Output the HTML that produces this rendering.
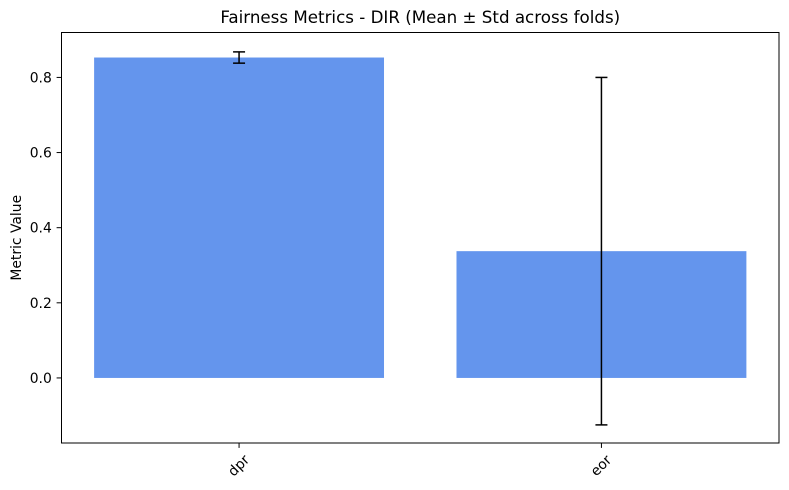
<!DOCTYPE html>
<html><head><meta charset="utf-8"><style>
html,body{margin:0;padding:0;background:#fff;}
svg{display:block;font-family:"DejaVu Sans","Liberation Sans",sans-serif;}
</style></head><body>
<svg id="chart" width="789" height="490" viewBox="0 0 789 490"></svg>
<script>
const categories = ["dpr", "eor"];
const means = [0.853, 0.3375];
const stds = [0.015, 0.4625];
const yTicks = [0.0, 0.2, 0.4, 0.6, 0.8];
const yTickLabels = ["0.0", "0.2", "0.4", "0.6", "0.8"];

const L = 61.5, R = 779, T = 32.5, B = 443;
const yMin = -0.1732, yMax = 0.9196;
const xMin = -0.49, xMax = 1.49;
const ns = "http://www.w3.org/2000/svg";
const svg = document.getElementById("chart");
function ys(v){ return B - (v - yMin) / (yMax - yMin) * (B - T); }
function xs(v){ return L + (v - xMin) / (xMax - xMin) * (R - L); }
function mk(tag, attrs, parent){
  const e = document.createElementNS(ns, tag);
  for (const k in attrs) e.setAttribute(k, attrs[k]);
  (parent || svg).appendChild(e);
  return e;
}

const title = mk("text", {x: (L+R)/2, y: 23, "text-anchor": "middle", "font-size": 16.7, fill: "#000"});


title.textContent = "Fairness Metrics - DIR (Mean \u00B1 Std across folds)";

const bw = 0.8;
categories.forEach((c, i) => {
  const x0 = xs(i - bw/2), x1 = xs(i + bw/2);
  const y0 = ys(Math.max(0, means[i])), y1 = ys(Math.min(0, means[i]));
  const bar = mk("rect", {x: x0, y: y0, width: x1 - x0, height: y1 - y0, fill: "#6495ED"});
  
  
});
categories.forEach((c, i) => {
  const g = mk("g", {stroke: "#000", "stroke-width": 1.5});
  
  
  const cx = xs(i), yt = ys(means[i] + stds[i]), yb = ys(means[i] - stds[i]);
  mk("line", {x1: cx, x2: cx, y1: yt, y2: yb}, g);
  mk("line", {x1: cx - 6, x2: cx + 6, y1: yt, y2: yt}, g);
  mk("line", {x1: cx - 6, x2: cx + 6, y1: yb, y2: yb}, g);
});

const frame = mk("rect", {x: L, y: T, width: R - L, height: B - T, fill: "none", stroke: "#000", "stroke-width": 1});



yTicks.forEach((v, i) => {
  const y = ys(v);
  const t = mk("line", {x1: L - 4.9, x2: L, y1: y, y2: y, stroke: "#000", "stroke-width": 1});
  
  
  const lb = mk("text", {x: L - 9.7, y: y + 5, "text-anchor": "end", "font-size": 13.9, fill: "#000"});
  
  
  lb.textContent = yTickLabels[i];
});
categories.forEach((c, i) => {
  const x = xs(i);
  const t = mk("line", {x1: x, x2: x, y1: B, y2: B + 4.9, stroke: "#000", "stroke-width": 1});
  
  
  const ax = x, ay = B + 23;
  const lb = mk("text", {x: ax, y: ay + 4, "text-anchor": "middle", "font-size": 13.9, fill: "#000", transform: `rotate(-45 ${ax} ${ay})`});
  
  
  lb.textContent = c;
});

const yl = mk("text", {x: 0, y: 0, "text-anchor": "middle", "font-size": 13.9, fill: "#000", transform: `translate(21 ${(T+B)/2}) rotate(-90)`});


yl.textContent = "Metric Value";
</script>
</body></html>
